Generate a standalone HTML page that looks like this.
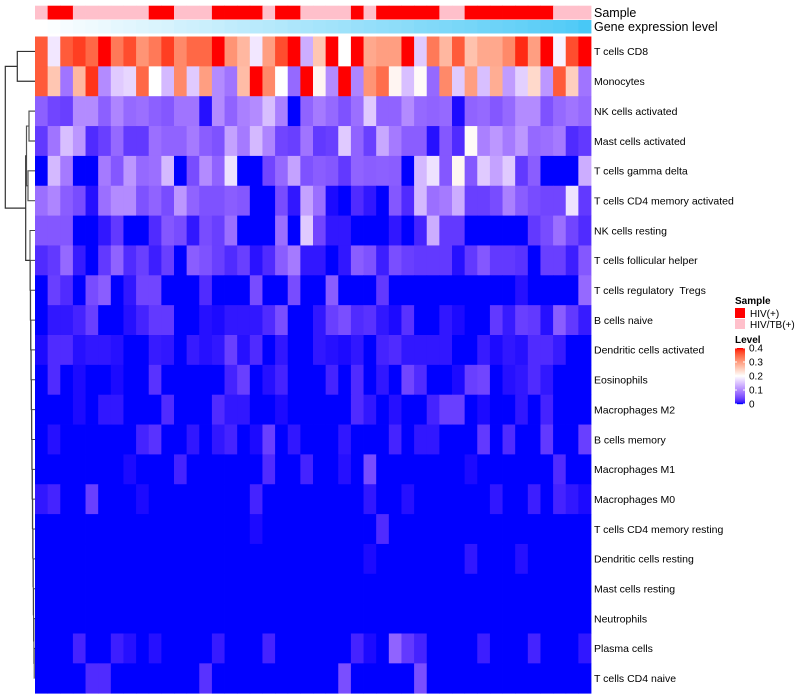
<!DOCTYPE html>
<html><head><meta charset="utf-8">
<style>
html,body{margin:0;padding:0;background:#fff;}
svg{display:block;font-family:"Liberation Sans",Arial,sans-serif;}
#rowlabels text{white-space:pre;}
</style></head>
<body>
<svg id="chart" width="800" height="700" viewBox="0 0 800 700">
  <g id="dendro" fill="none" stroke="#333" stroke-width="1.2"></g>
  <g id="annot"></g>
  <g id="cells"></g>
  <g id="rowlabels" font-size="10.5" fill="#000"></g>
  <text x="594" y="17" font-size="12.5">Sample</text>
  <text x="594" y="31" font-size="12.5">Gene expression level</text>
  <g id="legend">
    <text x="735" y="304" font-size="10" font-weight="bold">Sample</text>
    <rect x="735" y="308" width="10" height="10" fill="#ff0000"/>
    <text x="750" y="317" font-size="10">HIV(+)</text>
    <rect x="735" y="319" width="10" height="10" fill="#ffc0cb"/>
    <text x="750" y="328" font-size="10">HIV/TB(+)</text>
    <text x="735" y="343" font-size="10" font-weight="bold">Level</text>
    <g id="cbar"></g>
  </g>
</svg>
<script>
const rowNames = ["T cells CD8","Monocytes","NK cells activated","Mast cells activated","T cells gamma delta","T cells CD4 memory activated","NK cells resting","T cells follicular helper","T cells regulatory  Tregs","B cells naive","Dendritic cells activated","Eosinophils","Macrophages M2","B cells memory","Macrophages M1","Macrophages M0","T cells CD4 memory resting","Dendritic cells resting","Mast cells resting","Neutrophils","Plasma cells","T cells CD4 naive"];
const sampleGroups = "PHHPPPPPPHHPPPHHHHPHHPPPPHPHHHHHPPHHHHHHHPPP";
const geneExpr = [0.00,0.02,0.05,0.07,0.09,0.11,0.14,0.16,0.18,0.20,0.22,0.25,0.27,0.29,0.31,0.34,0.36,0.38,0.40,0.42,0.45,0.47,0.49,0.51,0.53,0.56,0.58,0.60,0.62,0.64,0.67,0.69,0.71,0.73,0.75,0.78,0.80,0.82,0.84,0.87,0.89,0.91,0.94,1.00];
const r0 = [.36,.18,.36,.38,.35,.4,.335,.37,.31,.335,.38,.32,.35,.35,.4,.31,.275,.18,.30,.37,.4,.13,.26,.4,.2,.4,.29,.30,.30,.4,.155,.335,.275,.36,.264,.29,.29,.32,.39,.30,.4,.19,.37,.4];
const r1 = [.36,.26,.08,.275,.385,.10,.155,.165,.35,.2,.14,.32,.155,.30,.10,.08,.27,.4,.32,.2,.07,.4,.21,.10,.4,.095,.31,.345,.21,.145,.205,.07,.32,.155,.30,.145,.285,.115,.16,.24,.11,.36,.25,.08];
const r2 = [.062,.04,.035,.10,.10,.062,.095,.07,.075,.062,.055,.08,.08,.005,.10,.065,.09,.10,.145,.09,0,.065,.085,.07,.05,.075,.155,.065,.065,.10,.07,.065,.07,.003,.065,.07,.055,.07,.10,.10,.05,.07,.08,.07];
const r3 = [.03,.08,.145,.11,.02,.035,.07,.03,.03,.075,.065,.065,.085,.06,.05,.12,.085,.14,.095,.04,.035,.08,.03,.035,.155,.065,.035,.125,.085,.06,.06,.005,.055,.02,.205,.09,.11,.085,.11,.07,.075,.085,.02,.03];
const r4 = [0,.14,.085,0,0,.085,.055,.11,.07,.075,.14,0,.045,.10,.065,.175,0,0,.04,.07,.12,.05,.06,.055,.03,.065,.06,.062,.06,0,.14,.175,.055,.21,.055,.155,.12,.155,.03,.06,0,0,0,.13];
const r5 = [.075,.095,.06,.045,.005,.075,.10,.10,.05,.065,.045,.11,.065,.05,.05,.06,.055,0,0,.045,.008,.12,.075,.003,0,.02,.008,0,.055,.02,.14,.075,.085,.13,.035,.035,.045,.09,.06,.045,.04,.04,.175,.03];
const r6 = [.055,.055,.055,0,0,.008,.03,0,0,.02,.055,.045,.008,.045,.035,.075,0,0,0,.075,0,.155,.04,.008,.008,0,0,0,.008,0,.015,.13,.03,.03,0,0,0,0,0,.03,.045,.075,.04,.02];
const r7 = [.02,.03,.07,.01,0,.03,.065,.02,.035,.012,.035,0,.06,.05,.035,.02,.035,.006,.02,.06,.085,.008,.008,0,.008,.06,.05,.012,.047,.035,.03,.03,.03,.005,.03,.055,.03,.03,.025,0,.035,.035,.012,.055];
const r8 = [0,.035,.02,0,.045,.06,0,.008,.04,.04,0,0,0,.02,0,0,0,.045,0,0,.045,0,0,.06,0,0,0,.03,0,0,0,0,0,0,0,0,0,0,.005,0,0,0,0,.07];
const r9 = [0,.008,.008,.015,.035,0,0,.005,.015,.03,.03,0,0,.005,.003,.008,.008,.008,.02,.047,0,0,.008,.035,.047,.02,.025,.008,.003,.025,0,0,.008,.003,0,0,.03,.01,.035,.03,.005,.06,.03,.01];
const r10 = [.003,.02,.02,.005,.008,.008,.005,0,0,.01,.008,0,.01,.005,.008,.035,.005,.02,0,.008,0,0,.008,.005,.003,.008,0,.015,.02,.008,.008,.008,.008,0,0,.01,.003,.008,.005,.02,.02,.01,0,0];
const r11 = [0,.02,0,.003,0,0,.003,0,0,.025,0,0,0,0,0,.015,.035,0,.005,.015,0,0,0,.015,0,.02,0,.008,0,.04,.02,0,0,.003,.035,.04,0,.005,.008,.02,.008,0,0,0];
const r12 = [0,0,0,.003,0,.008,.008,0,0,0,.02,0,0,0,.02,.008,.008,0,0,.003,0,0,0,0,0,.02,.008,0,.005,0,0,.015,.035,.035,0,.003,0,0,.008,0,.015,0,0,0];
const r13 = [0,.005,0,0,0,0,0,0,.015,.025,0,0,.008,0,.008,.015,0,.003,.035,0,.008,0,0,0,.008,0,0,0,.015,0,.008,.008,0,0,0,.03,0,.02,0,0,.03,0,0,.035];
const r14 = [0,0,0,0,0,0,0,.003,0,0,0,.015,0,0,0,0,0,0,.02,0,0,.015,0,0,.005,0,.045,0,0,0,0,0,0,0,.003,0,0,0,0,0,0,.02,0,0];
const r15 = [.008,.015,0,0,.035,0,0,0,.003,0,0,0,0,0,0,0,0,.015,0,0,0,0,0,0,0,0,.008,0,0,.005,0,0,0,0,0,0,.008,0,0,.012,0,.015,.008,.003];
const r16 = [0,0,0,0,0,0,0,0,0,0,0,0,0,0,0,0,0,.003,0,0,0,0,0,0,0,0,0,.02,0,0,0,0,0,0,0,0,0,0,0,0,0,0,0,0];
const r17 = [0,0,0,0,0,0,0,0,0,0,0,0,0,0,0,0,0,0,0,0,0,0,0,0,0,0,.003,0,0,0,0,0,0,0,.008,0,0,0,.005,0,0,0,0,0];
const r18 = [0,0,0,0,0,0,0,0,0,0,0,0,0,0,0,0,0,0,0,0,0,0,0,0,0,0,0,0,0,0,0,0,0,0,0,0,0,0,0,0,0,0,0,0];
const r19 = [0,0,0,0,0,0,0,0,0,0,0,0,0,0,0,0,0,0,0,0,0,0,0,0,0,0,0,0,0,0,0,0,0,0,0,0,0,0,0,0,0,0,0,0];
const r20 = [0,0,0,.015,0,0,.012,.005,0,.005,0,0,0,0,.01,0,0,0,.015,0,0,0,0,0,0,.015,.003,0,.065,.03,.015,0,0,0,0,.012,0,0,0,.015,0,0,0,.008];
const r21 = [0,0,0,0,.02,.02,0,0,0,0,0,0,0,.025,0,0,0,0,0,0,0,0,0,0,.047,0,0,0,0,0,.047,0,0,0,0,0,0,0,0,0,0,0,0,0];
const levelTicks = [0,0.1,0.2,0.3,0.4];
const rows = [r0,r1,r2,r3,r4,r5,r6,r7,r8,r9,r10,r11,r12,r13,r14,r15,r16,r17,r18,r19,r20,r21];

const NS = "http://www.w3.org/2000/svg";
const X0 = 35, X1 = 591, Y0 = 36.5, RH = 29.85;
const nCol = r0.length;
const CW = (X1 - X0) / nCol;
const xPos = i => X0 + i * CW;
const yPos = r => Y0 + r * RH;

const LB=[32.3,79.2,-107.9], LW=[100,0,0], LR=[53.24,80.09,67.2];
function lab2rgb(L,a,b){
  let y=(L+16)/116, x=a/500+y, z=y-b/200;
  const f=t=>t**3>0.008856?t**3:(t-16/116)/7.787;
  x=0.95047*f(x); y=f(y); z=1.08883*f(z);
  let r=x*3.2406+y*-1.5372+z*-0.4986, g=x*-0.9689+y*1.8758+z*0.0415, bb=x*0.0557+y*-0.2040+z*1.0570;
  const c=v=>{v=v>0.0031308?1.055*Math.pow(v,1/2.4)-0.055:12.92*v;return Math.round(Math.max(0,Math.min(1,v))*255);};
  return `rgb(${c(r)},${c(g)},${c(bb)})`;
}
function col(v){
  v=Math.max(0,Math.min(0.4,v));
  let A,B,t;
  if(v<=0.2){A=LB;B=LW;t=v/0.2;}else{A=LW;B=LR;t=(v-0.2)/0.2;}
  return lab2rgb(A[0]+(B[0]-A[0])*t,A[1]+(B[1]-A[1])*t,A[2]+(B[2]-A[2])*t);
}
function geneCol(v){
  const a=[255,255,255], b=[72,200,246];
  return `rgb(${a.map((x,i)=>Math.round(x+(b[i]-x)*v)).join(',')})`;
}

const cells=document.getElementById('cells');
rows.forEach((row,r)=>{
  row.forEach((v,c)=>{
    const el=document.createElementNS(NS,'rect');
    el.setAttribute('x',xPos(c).toFixed(2));
    el.setAttribute('y',yPos(r).toFixed(2));
    el.setAttribute('width',(CW+0.4).toFixed(2));
    el.setAttribute('height',(RH+0.4).toFixed(2));
    el.setAttribute('fill',col(v));
    
    
    cells.appendChild(el);
  });
});

const annot=document.getElementById('annot');
for(let c=0;c<nCol;c++){
  const s=document.createElementNS(NS,'rect');
  s.setAttribute('x',xPos(c).toFixed(2)); s.setAttribute('y',5.7);
  s.setAttribute('width',(CW+0.4).toFixed(2)); s.setAttribute('height',13.8);
  s.setAttribute('fill',sampleGroups[c]==='H'?'#ff0000':'#ffc0cb');
  
  
  annot.appendChild(s);
  const g=document.createElementNS(NS,'rect');
  g.setAttribute('x',xPos(c).toFixed(2)); g.setAttribute('y',20);
  g.setAttribute('width',(CW+0.4).toFixed(2)); g.setAttribute('height',13.5);
  g.setAttribute('fill',geneCol(geneExpr[c]));
  
  
  annot.appendChild(g);
}

const rl=document.getElementById('rowlabels');
rowNames.forEach((n,r)=>{
  const t=document.createElementNS(NS,'text');
  t.setAttribute('x',594);
  t.setAttribute('y',(yPos(r)+RH/2+3.8).toFixed(1));
  t.textContent=n;
  
  
  rl.appendChild(t);
});

const cb=document.getElementById('cbar');
const BY0=348, BY1=404;
for(let i=0;i<56;i++){
  const v=0.4*(1-i/55);
  const rc=document.createElementNS(NS,'rect');
  rc.setAttribute('x',735); rc.setAttribute('y',BY0+i); rc.setAttribute('width',10); rc.setAttribute('height',1.2);
  rc.setAttribute('fill',col(v));
  
  
  cb.appendChild(rc);
}
levelTicks.forEach(v=>{
  const y=BY1-(v/0.4)*(BY1-BY0);
  const ln=document.createElementNS(NS,'line');
  ln.setAttribute('x1',735); ln.setAttribute('x2',737); ln.setAttribute('y1',y); ln.setAttribute('y2',y);
  ln.setAttribute('stroke','#fff');
  
  
  cb.appendChild(ln);
  const ln2=document.createElementNS(NS,'line');
  ln2.setAttribute('x1',743); ln2.setAttribute('x2',745); ln2.setAttribute('y1',y); ln2.setAttribute('y2',y);
  ln2.setAttribute('stroke','#fff');
  
  
  cb.appendChild(ln2);
  const t=document.createElementNS(NS,'text');
  t.setAttribute('x',749); t.setAttribute('y',(y+3.5).toFixed(1)); t.setAttribute('font-size',10);
  t.textContent=String(v);
  
  
  cb.appendChild(t);
});

const d=document.getElementById('dendro');
const cy=r=>yPos(r)+RH/2;
function seg(path,color,w){
  const p=document.createElementNS(NS,'path');
  p.setAttribute('d',path);
  if(color)p.setAttribute('stroke',color);
  if(w)p.setAttribute('stroke-width',w);
  
  
  d.appendChild(p);
}
seg(`M35 ${cy(0)} H17.3 V${cy(1)} H35`);
const nA = (cy(2)+cy(3))/2, nB=(cy(4)+cy(5))/2;
seg(`M35 ${cy(2)} H29 V${cy(3)} H35`,'#555');
seg(`M35 ${cy(4)} H28 V${cy(5)} H35`,'#555');
seg(`M29 ${nA} H26.5 V${nB} H28`,'#555');
const aMid=(nA+nB)/2;
let prevY=cy(21), prevX=34.5;
for(let r=20;r>=6;r--){
  const x=Math.max(30,34.5-(21-r)*0.3);
  seg(`M35 ${cy(r)} H${x} V${prevY} H${prevX}`,'#444',1);
  prevY=(cy(r)+prevY)/2; prevX=x;
}
const bMid=prevY;
seg(`M26.5 ${aMid} H25.7 V${bMid} H${prevX}`,'#333');
const restMid=(aMid+bMid)/2;
const topMid=(cy(0)+cy(1))/2;
seg(`M17.3 ${topMid} H5.3 V${restMid} H25.7`,'#333');
</script>
</body></html>
